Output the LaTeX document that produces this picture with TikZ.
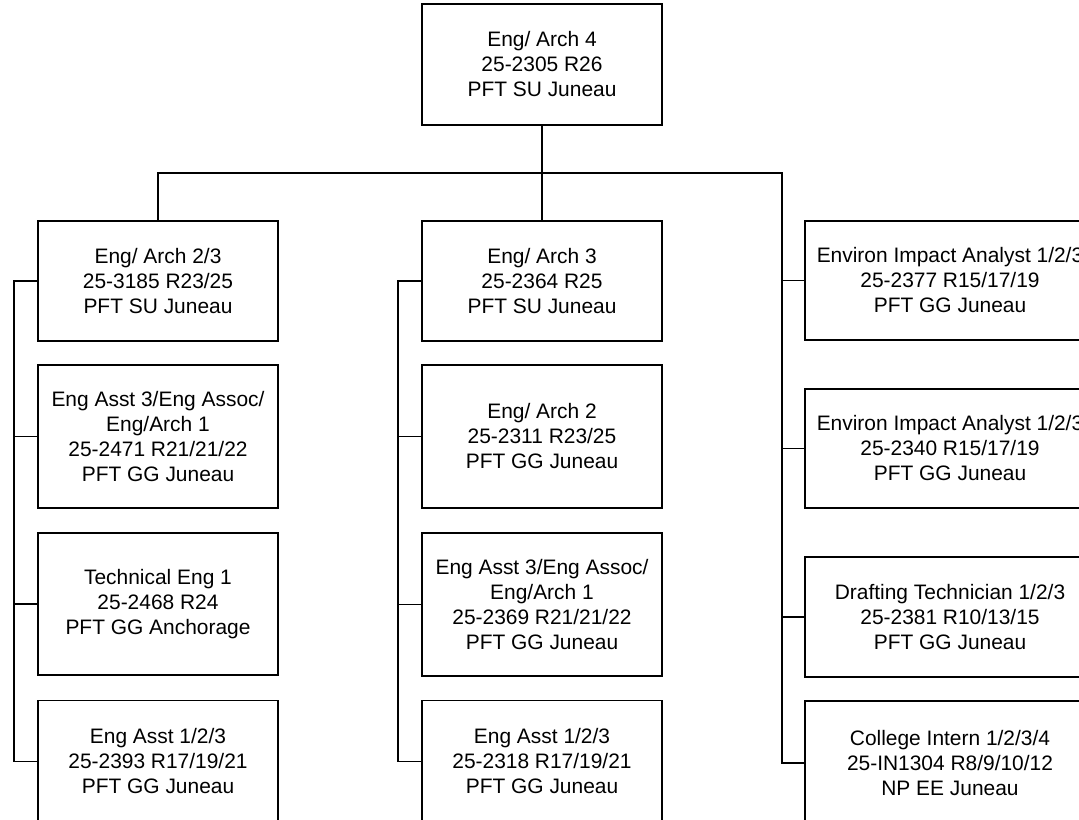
\documentclass[tikz,border=0pt]{standalone}
\usepackage{fontspec}
\setmainfont{Liberation Sans}
\usepackage{tikz}
\newcommand{\orgfont}{\fontsize{15.7}{18.75}\selectfont}

\begin{document}
\begin{tikzpicture}[
  x=0.75pt, y=-0.75pt,
  link/.style={line width=1pt, draw=black},
  posbox/.style={draw, line width=1pt, align=center, inner sep=0, font=\orgfont, minimum width=180pt},
  posbox wide/.style={posbox, minimum width=217.5pt},
]

% Page frame (the chart runs off the right and bottom edges)
\useasboundingbox (0, 0) rectangle (1079, 820);
\clip (0, 0) rectangle (1079, 820);

% ==================== Top ====================
\node[posbox, minimum height=90.75pt] (archfour) at (542, 64.5) {Eng/ Arch 4\\25-2305 R26\\PFT SU Juneau};

% ==================== Left column ====================
\node[posbox, minimum height=90pt] (archtwothree) at (158, 281) {Eng/ Arch 2/3\\25-3185 R23/25\\PFT SU Juneau};
\node[posbox, minimum height=107.25pt] (engassocL) at (158, 436.5) {Eng Asst 3/Eng Assoc/\\Eng/Arch 1\\25-2471 R21/21/22\\PFT GG Juneau};
\node[posbox, minimum height=106.5pt] (techeng) at (158, 604) {Technical Eng 1\\25-2468 R24\\PFT GG Anchorage};
\node[posbox, minimum height=91.5pt] (engasstL) at (158, 761.5) {Eng Asst 1/2/3\\25-2393 R17/19/21\\PFT GG Juneau};

% ==================== Middle column ====================
\node[posbox, minimum height=90pt] (archthree) at (542, 281) {Eng/ Arch 3\\25-2364 R25\\PFT SU Juneau};
\node[posbox, minimum height=107.25pt] (archtwo) at (542, 436.5) {Eng/ Arch 2\\25-2311 R23/25\\PFT GG Juneau};
\node[posbox, minimum height=107.25pt] (engassocM) at (542, 604.5) {Eng Asst 3/Eng Assoc/\\Eng/Arch 1\\25-2369 R21/21/22\\PFT GG Juneau};
\node[posbox, minimum height=91.5pt] (engasstM) at (542, 761.5) {Eng Asst 1/2/3\\25-2318 R17/19/21\\PFT GG Juneau};

% ==================== Right column ====================
\node[posbox wide, minimum height=89.25pt] (envone) at (950, 280.5) {Environ Impact Analyst 1/2/3\\25-2377 R15/17/19\\PFT GG Juneau};
\node[posbox wide, minimum height=89.25pt] (envtwo) at (950, 448.5) {Environ Impact Analyst 1/2/3\\25-2340 R15/17/19\\PFT GG Juneau};
\node[posbox wide, minimum height=90pt] (drafttech) at (950, 617) {Drafting Technician 1/2/3\\25-2381 R10/13/15\\PFT GG Juneau};
\node[posbox wide, minimum height=93pt] (intern) at (950, 763) {College Intern 1/2/3/4\\25-IN1304 R8/9/10/12\\NP EE Juneau};

% ==================== Connectors ====================
\coordinate (rspine) at (782, 173);
\coordinate (lspine) at (14, 281);
\coordinate (mspine) at (398, 281);

\draw[link] (archfour.south) -- (archthree.north);
\draw[link] (archtwothree.north) |- (rspine) |- (intern.west);

\draw[link] (archtwothree.west) -- (lspine) |- (engasstL.west);
\draw[link] (engassocL.west) -- (engassocL.west -| lspine);
\draw[link] (techeng.west) -- (techeng.west -| lspine);

\draw[link] (archthree.west) -- (mspine) |- (engasstM.west);
\draw[link] (archtwo.west) -- (archtwo.west -| mspine);
\draw[link] (engassocM.west) -- (engassocM.west -| mspine);

\draw[link] (envone.west) -- (envone.west -| rspine);
\draw[link] (envtwo.west) -- (envtwo.west -| rspine);
\draw[link] (drafttech.west) -- (drafttech.west -| rspine);

\end{tikzpicture}
\end{document}
